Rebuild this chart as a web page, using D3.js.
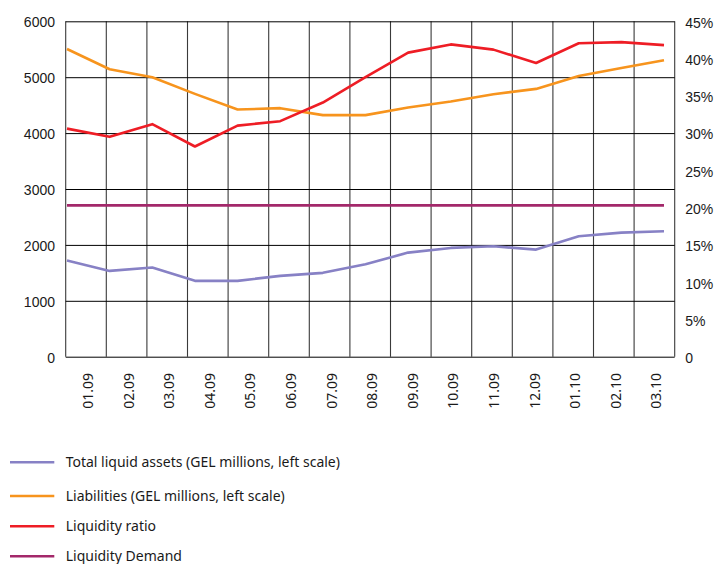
<!DOCTYPE html>
<html>
<head>
<meta charset="utf-8">
<script src="https://cdn.jsdelivr.net/npm/d3@7"></script>
<style>
  html, body { margin: 0; padding: 0; background: #fff; }
  svg { display: block; font-family: "Noto Sans", sans-serif; }
</style>
</head>
<body>
<svg id="chart" width="717" height="564"></svg>
<script>
// ---- data ----
const categories = ["01.09","02.09","03.09","04.09","05.09","06.09","07.09","08.09","09.09","10.09","11.09","12.09","01.10","02.10","03.10"];
const totalLiquidAssets = [1720, 1535, 1595, 1357, 1357, 1446, 1500, 1655, 1862, 1946, 1975, 1916, 2154, 2220, 2243];
const liabilities = [5505, 5143, 5000, 4702, 4421, 4446, 4322, 4322, 4457, 4564, 4696, 4791, 5023, 5166, 5304];
const liquidityRatio = [30.6, 29.5, 31.2, 28.2, 31.0, 31.6, 34.1, 37.5, 40.8, 41.9, 41.2, 39.4, 42.05, 42.2, 41.8];
const liquidityDemand = [20.3, 20.3, 20.3, 20.3, 20.3, 20.3, 20.3, 20.3, 20.3, 20.3, 20.3, 20.3, 20.3, 20.3, 20.3];
const leftTicks = [0, 1000, 2000, 3000, 4000, 5000, 6000];
const rightTicks = [0, 5, 10, 15, 20, 25, 30, 35, 40, 45];
const seriesNames = [
  "Total liquid assets (GEL millions, left scale)",
  "Liabilities (GEL millions, left scale)",
  "Liquidity ratio",
  "Liquidity Demand"
];
const seriesColors = ["#8781c5", "#f7941d", "#ee1d25", "#a3286a"];

// ---- layout ----
const svg = d3.select("#chart");
const plot = { left: 65.7, right: 674.7, top: 21.3, bottom: 356.7 };

const yL = d3.scaleLinear().domain([0, 6000]).range([plot.bottom, plot.top]);
const yR = d3.scaleLinear().domain([0, 45]).range([plot.bottom, plot.top]);
const xBand = d3.scaleBand().domain(categories).range([plot.left, plot.right]).padding(0);
const xPoint = d3.scalePoint().domain(categories).range([67, 664]);

// vertical gridlines (band boundaries)
const vEdges = categories.map(c => xBand(c)).concat([plot.right]);
svg.append("g").selectAll("line").data(vEdges).join("line")
  .attr("x1", d => d).attr("x2", d => d)
  .attr("y1", plot.top).attr("y2", plot.bottom)
  .attr("stroke", "#3a3a3a").attr("stroke-width", 1.1);

// horizontal gridlines + left labels via axis
const gL = svg.append("g").attr("transform", `translate(${plot.left},0)`)
  .call(d3.axisLeft(yL).tickValues(leftTicks).tickSize(-(plot.right - plot.left)).tickPadding(10.7).tickFormat(d3.format("d")));
gL.select(".domain").remove();
gL.selectAll(".tick line").attr("stroke", "#000").attr("stroke-width", 1);
gL.selectAll(".tick text").attr("fill", "#1a1a1a").style("font-size", "14px").attr("dy", "0.4em");

// right axis labels
const gR = svg.append("g").attr("transform", `translate(${plot.right},0)`)
  .call(d3.axisRight(yR).tickValues(rightTicks).tickSize(0).tickPadding(10.5).tickFormat(d => d === 0 ? "0" : d + "%"));
gR.select(".domain").remove();
gR.selectAll(".tick text").attr("fill", "#1a1a1a").style("font-size", "14px").attr("dy", "0.42em");

// x labels (rotated)
svg.append("g").selectAll("text").data(categories).join("text")
  .attr("transform", d => `translate(${xBand(d) + xBand.bandwidth() / 2 + 2},373) rotate(-90)`)
  .attr("text-anchor", "end").attr("dy", "0.35em")
  .attr("fill", "#1a1a1a").style("font-size", "14px")
  .text(d => d);

// lines
const lineL = d3.line().x((d, i) => xPoint(categories[i])).y(d => yL(d));
const lineR = d3.line().x((d, i) => xPoint(categories[i])).y(d => yR(d));
const seriesDefs = [
  { vals: totalLiquidAssets, gen: lineL },
  { vals: liabilities, gen: lineL },
  { vals: liquidityRatio, gen: lineR },
  { vals: liquidityDemand, gen: lineR }
];
seriesDefs.forEach((s, i) => {
  svg.append("path").datum(s.vals)
    .attr("d", s.gen)
    .attr("fill", "none")
    .attr("stroke", seriesColors[i])
    .attr("stroke-width", 2.6)
    .attr("stroke-linejoin", "round");
});

// legend
const legendY = [462.3, 496, 526.3, 556.3];
const lg = svg.append("g");
seriesNames.forEach((name, i) => {
  lg.append("line").attr("x1", 10).attr("x2", 54.3)
    .attr("y1", legendY[i]).attr("y2", legendY[i])
    .attr("stroke", seriesColors[i]).attr("stroke-width", 2.6);
  lg.append("text").attr("x", 65.7).attr("y", legendY[i]).attr("dy", "0.35em")
    .attr("fill", "#1a1a1a").style("font-size", "14px")
    .text(name);
});
</script>
</body>
</html>
